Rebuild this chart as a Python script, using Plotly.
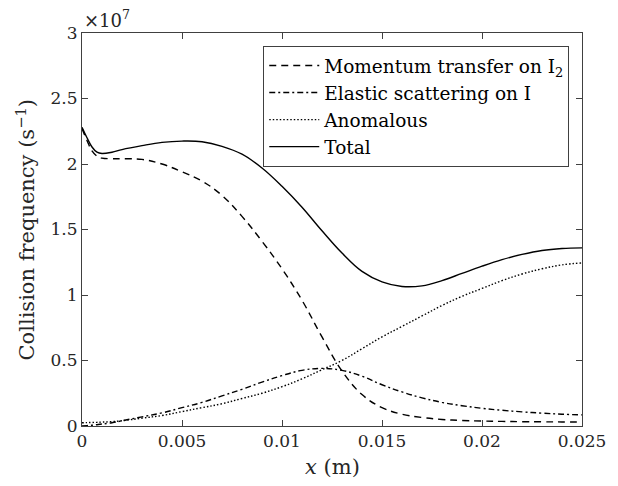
import plotly.graph_objects as go

# x positions (m)
x = [0, 0.00025, 0.0005, 0.00075, 0.001, 0.0015, 0.002, 0.003, 0.004, 0.005,
     0.006, 0.007, 0.008, 0.009, 0.010, 0.011, 0.012, 0.013, 0.014, 0.015,
     0.016, 0.017, 0.018, 0.019, 0.020, 0.021, 0.022, 0.023, 0.024, 0.025]

# collision frequencies in units of 1e7 s^-1
momentum = [2.27, 2.18, 2.10, 2.06, 2.045, 2.04, 2.04, 2.035, 2.00, 1.94,
            1.87, 1.76, 1.60, 1.41, 1.20, 0.96, 0.68, 0.42, 0.24, 0.14,
            0.09, 0.065, 0.05, 0.042, 0.038, 0.035, 0.033, 0.032, 0.031, 0.03]
elastic = [0.0, 0.003, 0.006, 0.01, 0.015, 0.025, 0.04, 0.07, 0.10, 0.14,
           0.18, 0.23, 0.28, 0.335, 0.385, 0.425, 0.44, 0.425, 0.38, 0.315,
           0.26, 0.215, 0.18, 0.155, 0.135, 0.12, 0.108, 0.098, 0.09, 0.085]
anomalous = [0.025, 0.026, 0.027, 0.028, 0.03, 0.033, 0.04, 0.06, 0.08, 0.11,
             0.14, 0.17, 0.21, 0.25, 0.30, 0.36, 0.43, 0.50, 0.59, 0.68,
             0.76, 0.84, 0.92, 0.99, 1.05, 1.11, 1.16, 1.20, 1.23, 1.245]
total = [2.28, 2.20, 2.13, 2.09, 2.08, 2.09, 2.11, 2.14, 2.165, 2.175,
         2.17, 2.135, 2.075, 1.97, 1.83, 1.67, 1.49, 1.32, 1.18, 1.10,
         1.065, 1.07, 1.11, 1.165, 1.22, 1.27, 1.31, 1.34, 1.355, 1.36]

names = ["Momentum transfer on I<sub>2</sub>", "Elastic scattering on I",
         "Anomalous", "Total"]

x_ticks = [0, 0.005, 0.01, 0.015, 0.02, 0.025]
x_ticktext = ["0", "0.005", "0.01", "0.015", "0.02", "0.025"]
y_ticks = [0, 0.5, 1, 1.5, 2, 2.5, 3]
y_ticktext = ["0", "0.5", "1", "1.5", "2", "2.5", "3"]

FONT = "DejaVu Serif"
series = [momentum, elastic, anomalous, total]
dashes = ["7px,5px", "6px,3px,2px,3px", "1.5px,2px", "solid"]

fig = go.Figure()
for vals, name, d in zip(series, names, dashes):
    fig.add_trace(go.Scatter(
        x=x, y=vals, name=name, mode="lines",
        line=dict(color="black", width=1.4, dash=d, shape="spline", smoothing=1.1),
    ))

axis_common = dict(
    showline=True, linecolor="#404040", linewidth=1, mirror="ticks",
    ticks="inside", ticklen=6, tickcolor="#404040", tickwidth=1,
    showgrid=False, zeroline=False,
    tickfont=dict(family=FONT, size=17, color="#262626"),
)

fig.update_layout(
    width=618, height=486,
    margin=dict(l=82, r=26, t=33, b=60),
    paper_bgcolor="white", plot_bgcolor="white",
    font=dict(family=FONT, color="#262626"),
    showlegend=True,
    legend=dict(
        x=0.9745, y=0.967, xanchor="right", yanchor="top",
        bgcolor="white", bordercolor="#404040", borderwidth=1,
        font=dict(family=FONT, size=18.5, color="black"),
        tracegroupgap=0, itemwidth=50,
    ),
    xaxis=dict(range=[0, 0.025], tickvals=x_ticks, ticktext=x_ticktext, **axis_common),
    yaxis=dict(range=[0, 3], tickvals=y_ticks, ticktext=y_ticktext, **axis_common),
    annotations=[
        dict(text="×10<sup>7</sup>", xref="paper", yref="paper", x=0, y=1,
             xanchor="left", yanchor="bottom", yshift=0, showarrow=False,
             font=dict(family=FONT, size=18, color="#262626")),
        dict(text="<i>x</i> (m)", xref="paper", yref="paper", x=0.5, y=0,
             xanchor="center", yanchor="middle", yshift=-41, showarrow=False,
             font=dict(family=FONT, size=21, color="#262626")),
        dict(text="Collision frequency (s<sup>−1</sup>)", xref="paper", yref="paper",
             x=0, y=0.5, xanchor="center", yanchor="middle", xshift=-57,
             textangle=-90, showarrow=False,
             font=dict(family=FONT, size=21, color="#262626")),
    ],
)

fig.write_html("out.html")
